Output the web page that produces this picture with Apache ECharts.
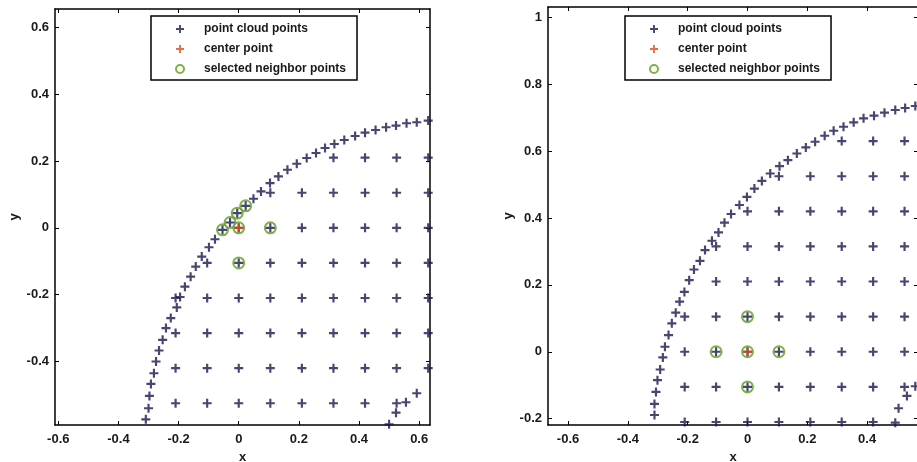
<!DOCTYPE html>
<html>
<head>
<meta charset="utf-8">
<script src="https://cdn.jsdelivr.net/npm/echarts@6/dist/echarts.min.js"></script>
<style>
  html, body { margin: 0; background: #fff; }
  #chart { width: 917px; height: 462px; }
</style>
</head>
<body>
<div id="chart"></div>
<script>
// ---- left panel: edge arc of the cloud
var leftArc = [
  [-0.309,-0.573],[-0.300,-0.540],[-0.297,-0.503],[-0.292,-0.467],[-0.282,-0.435],
  [-0.275,-0.400],[-0.265,-0.367],[-0.253,-0.335],[-0.242,-0.300],[-0.226,-0.270],
  [-0.206,-0.238],[-0.195,-0.207],[-0.179,-0.176],[-0.160,-0.146],[-0.143,-0.116],
  [-0.123,-0.086],[-0.099,-0.058],[-0.079,-0.034],[-0.054,-0.006],[-0.029,0.016],
  [-0.005,0.044],[0.023,0.066],[0.049,0.087],[0.074,0.109],[0.104,0.134],
  [0.132,0.154],[0.162,0.174],[0.193,0.192],[0.226,0.209],[0.257,0.224],
  [0.287,0.239],[0.318,0.251],[0.351,0.263],[0.387,0.275],[0.420,0.285],
  [0.455,0.293],[0.490,0.301],[0.523,0.306],[0.558,0.313],[0.592,0.316],[0.630,0.321]
];
// regular grid rows: y value and the x values present in that row
var leftRowY = [0.21, 0.105, 0, -0.105, -0.21, -0.315, -0.42, -0.525];
var leftRowX = [
  [0.315,0.42,0.525,0.63],
  [0.105,0.21,0.315,0.42,0.525,0.63],
  [0,0.105,0.21,0.315,0.42,0.525,0.63],
  [-0.105,0,0.105,0.21,0.315,0.42,0.525,0.63],
  [-0.21,-0.105,0,0.105,0.21,0.315,0.42,0.525,0.63],
  [-0.21,-0.105,0,0.105,0.21,0.315,0.42,0.525,0.63],
  [-0.21,-0.105,0,0.105,0.21,0.315,0.42,0.525,0.63],
  [-0.21,-0.105,0,0.105,0.21,0.315,0.42,0.525]
];
var leftExtra = [[0.556,-0.522],[0.592,-0.495],[0.523,-0.553],[0.500,-0.588]];
var leftCenter = [[0, 0]];
var leftNeighbors = [[-0.054,-0.006],[-0.029,0.016],[-0.005,0.044],[0.023,0.066],[0,0],[0.105,0],[0,-0.105]];

// ---- right panel
var rightArc = [
  [-0.311,-0.189],[-0.311,-0.156],[-0.306,-0.120],[-0.301,-0.085],[-0.292,-0.053],
  [-0.283,-0.017],[-0.276,0.015],[-0.264,0.050],[-0.253,0.085],[-0.240,0.117],
  [-0.227,0.150],[-0.211,0.179],[-0.195,0.214],[-0.179,0.246],[-0.159,0.272],
  [-0.142,0.304],[-0.119,0.332],[-0.097,0.357],[-0.077,0.386],[-0.055,0.412],
  [-0.027,0.439],[-0.002,0.463],[0.023,0.488],[0.048,0.511],[0.076,0.533],
  [0.107,0.555],[0.135,0.573],[0.165,0.593],[0.195,0.611],[0.226,0.628],
  [0.258,0.646],[0.288,0.661],[0.321,0.673],[0.355,0.686],[0.388,0.698],
  [0.423,0.706],[0.458,0.715],[0.494,0.723],[0.527,0.729],[0.561,0.735]
];
var rightRowY = [0.63, 0.525, 0.42, 0.315, 0.21, 0.105, 0, -0.105, -0.21];
var rightRowX = [
  [0.315,0.42,0.525],
  [0.105,0.21,0.315,0.42,0.525],
  [0,0.105,0.21,0.315,0.42,0.525],
  [-0.105,0,0.105,0.21,0.315,0.42,0.525],
  [-0.105,0,0.105,0.21,0.315,0.42,0.525],
  [-0.21,-0.105,0,0.105,0.21,0.315,0.42,0.525],
  [-0.21,-0.105,0,0.105,0.21,0.315,0.42,0.525],
  [-0.21,-0.105,0,0.105,0.21,0.315,0.42,0.525],
  [-0.21,-0.105,0,0.105,0.21,0.315,0.42]
];
var rightExtra = [[0.494,-0.212],[0.505,-0.169],[0.533,-0.132],[0.561,-0.103]];
var rightCenter = [[0, 0]];
var rightNeighbors = [[0,0.105],[-0.105,0],[0,0],[0.105,0],[0,-0.105]];

// tick labels
var xTicksLeft = [-0.6,-0.4,-0.2,0,0.2,0.4,0.6];
var yTicksLeft = [-0.4,-0.2,0,0.2,0.4,0.6];
var xTicksRight = [-0.6,-0.4,-0.2,0,0.2,0.4];
var yTicksRight = [-0.2,0,0.2,0.4,0.6,0.8,1];

var seriesNames = ['point cloud points', 'center point', 'selected neighbor points'];

function cloud(arc, rowY, rowX, extra) {
  var pts = arc.slice();
  for (var i = 0; i < rowY.length; i++) {
    for (var j = 0; j < rowX[i].length; j++) pts.push([rowX[i][j], rowY[i]]);
  }
  return pts.concat(extra);
}

var PLUS = 'path://M3.8,0H6.2V3.8H10V6.2H6.2V10H3.8V6.2H0V3.8H3.8Z';
var NAVY = '#18184e', RED = '#de4a1c', GREEN = '#5f9c1e';
var font = 'Liberation Sans, Arial, sans-serif';

function xAxes(g, min, max, ticks) {
  var line = { onZero: false, lineStyle: { color: '#000', width: 1.5 } };
  var tick = { inside: true, length: 4, customValues: ticks, lineStyle: { color: '#000', width: 1 } };
  return [{
    type: 'value', gridIndex: g, position: 'bottom', min: min, max: max,
    axisLine: line, axisTick: tick, splitLine: { show: false },
    axisLabel: { customValues: ticks, margin: 8, fontSize: 13, fontWeight: 'bold', fontFamily: font, color: '#1a1a1a' },
    name: 'x', nameLocation: 'middle', nameGap: 25,
    nameTextStyle: { fontSize: 13, fontWeight: 'bold', fontFamily: font, color: '#1a1a1a' }
  }, {
    type: 'value', gridIndex: g, position: 'top', min: min, max: max,
    axisLine: line, axisTick: tick, splitLine: { show: false }, axisLabel: { show: false }
  }];
}

function yAxes(g, min, max, ticks, gap) {
  var line = { onZero: false, lineStyle: { color: '#000', width: 1.5 } };
  var tick = { inside: true, length: 4, customValues: ticks, lineStyle: { color: '#000', width: 1 } };
  return [{
    type: 'value', gridIndex: g, position: 'left', min: min, max: max,
    axisLine: line, axisTick: tick, splitLine: { show: false },
    axisLabel: { customValues: ticks, margin: 6, fontSize: 13, fontWeight: 'bold', fontFamily: font, color: '#1a1a1a' },
    name: 'y', nameLocation: 'middle', nameGap: gap,
    nameTextStyle: { fontSize: 13, fontWeight: 'bold', fontFamily: font, color: '#1a1a1a' }
  }, {
    type: 'value', gridIndex: g, position: 'right', min: min, max: max,
    axisLine: line, axisTick: tick, splitLine: { show: false }, axisLabel: { show: false }
  }];
}

function panelSeries(axisIdx, cloudPts, center, neighbors) {
  // neighbours first so the plus marks sit on top of the rings
  return [{
    name: seriesNames[2], type: 'scatter', xAxisIndex: axisIdx, yAxisIndex: axisIdx,
    symbol: 'emptyCircle', symbolSize: 11, data: neighbors,
    itemStyle: { color: GREEN }
  }, {
    name: seriesNames[0], type: 'scatter', xAxisIndex: axisIdx, yAxisIndex: axisIdx,
    symbol: PLUS, symbolSize: 9, data: cloudPts,
    itemStyle: { color: NAVY }
  }, {
    name: seriesNames[1], type: 'scatter', xAxisIndex: axisIdx, yAxisIndex: axisIdx,
    symbol: PLUS, symbolSize: 9, data: center,
    itemStyle: { color: RED }
  }];
}

function legendAt(left) {
  return {
    data: seriesNames, orient: 'vertical', left: left, top: 16,
    padding: [6, 11, 4, 24], itemWidth: 38, itemHeight: 8, itemGap: 6,
    borderColor: '#000', borderWidth: 1.5, borderRadius: 0, backgroundColor: '#fff',
    selectedMode: false,
    textStyle: { fontSize: 12, fontWeight: 'bold', fontFamily: font, color: '#1a1a1a', lineHeight: 14 }
  };
}

var chart = echarts.init(document.getElementById('chart'));
chart.setOption({
  animation: false,
  backgroundColor: '#fff',
  // fixed boxes: the right panel runs past the edge of the picture
  grid: [
    { left: 55, top: 9, width: 375, height: 416, outerBoundsMode: 'none' },
    { left: 548, top: 7, width: 370, height: 418, outerBoundsMode: 'none' }
  ],
  xAxis: xAxes(0, -0.611, 0.636, xTicksLeft).concat(xAxes(1, -0.667, 0.57, xTicksRight)),
  yAxis: yAxes(0, -0.59, 0.655, yTicksLeft, 34).concat(yAxes(1, -0.219, 1.031, yTicksRight, 33)),
  legend: [legendAt(151), legendAt(625)],
  series: panelSeries(0, cloud(leftArc, leftRowY, leftRowX, leftExtra), leftCenter, leftNeighbors)
    .concat(panelSeries(2, cloud(rightArc, rightRowY, rightRowX, rightExtra), rightCenter, rightNeighbors))
});
</script>
</body>
</html>
